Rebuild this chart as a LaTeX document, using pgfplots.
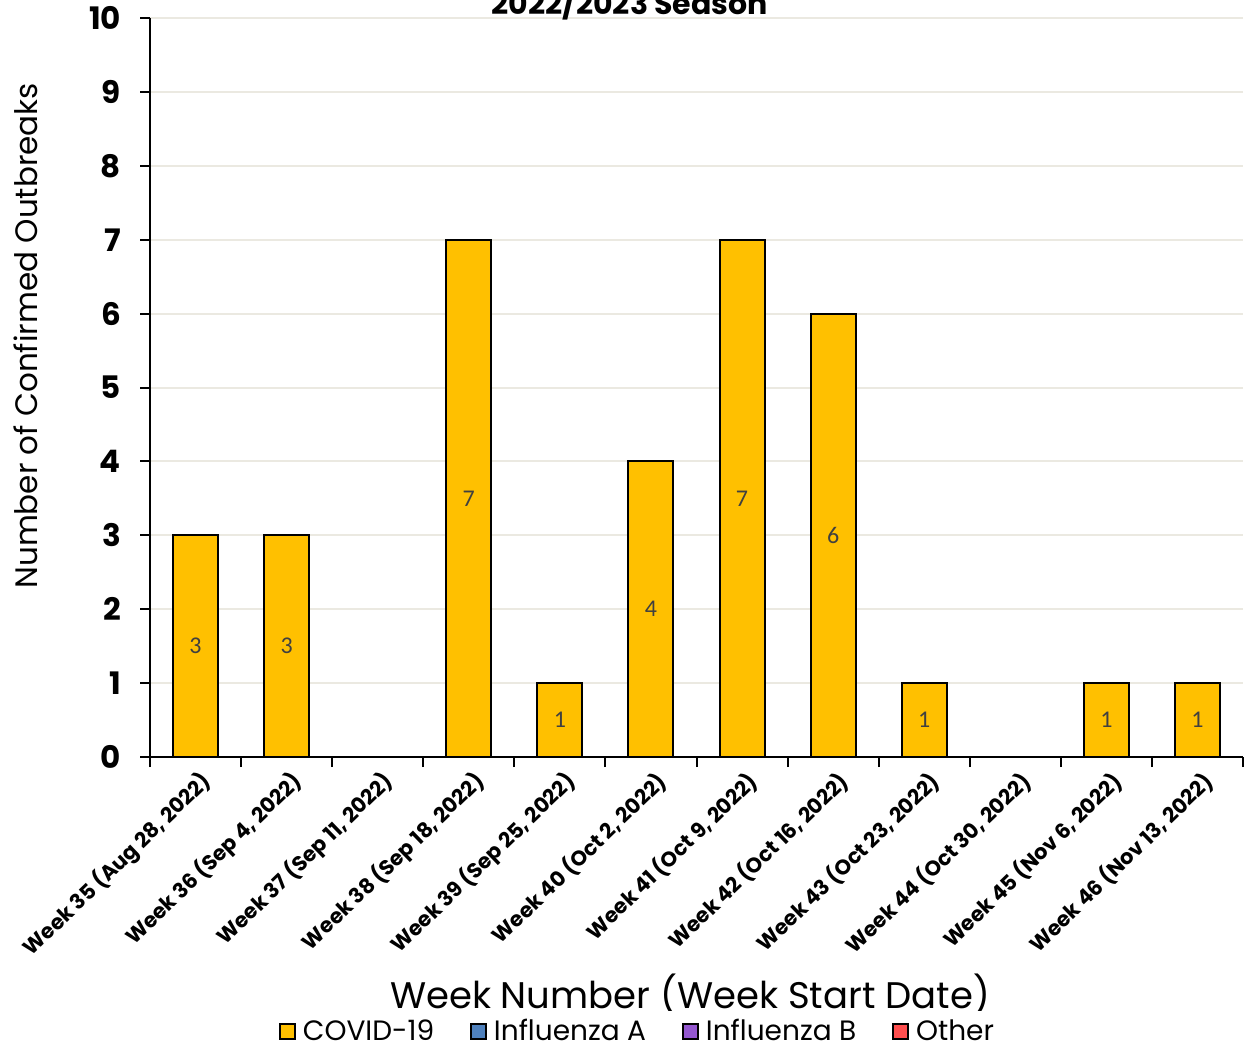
\documentclass[border=0pt]{standalone}
\usepackage{fontspec}
\setmainfont{Poppins}
\newfontfamily\carlito{Carlito}
\usepackage{pgfplots}
\pgfplotsset{compat=1.18}
\definecolor{covid}{HTML}{FFC000}
\definecolor{flua}{HTML}{4F81BD}
\definecolor{flub}{HTML}{9457CF}
\definecolor{other}{HTML}{FF4F4F}
\definecolor{gridc}{HTML}{EBE9E1}
\definecolor{lbl}{HTML}{404040}
\pgfplotsset{sq/.style={legend image code/.code={\draw[fill=#1,draw=black,line width=1pt] (0pt,-3.7pt) rectangle (7.4pt,3.7pt);}}}

\begin{document}
\begin{tikzpicture}
\begin{axis}[
    scale only axis,
    width=546.5pt, height=369.5pt,
    xmin=-0.5, xmax=11.5, ymin=0, ymax=10,
    axis lines=left,
    axis line style={-, black, line width=1pt},
    /pgf/number format/assume math mode=true,
    tick align=outside,
    major tick length=5pt, minor tick length=5pt,
    xtick={0,...,11},
    xticklabels={{Week 35 (Aug 28, 2022)},{Week 36 (Sep 4, 2022)},{Week 37 (Sep 11, 2022)},
        {Week 38 (Sep 18, 2022)},{Week 39 (Sep 25, 2022)},{Week 40 (Oct 2, 2022)},
        {Week 41 (Oct 9, 2022)},{Week 42 (Oct 16, 2022)},{Week 43 (Oct 23, 2022)},
        {Week 44 (Oct 30, 2022)},{Week 45 (Nov 6, 2022)},{Week 46 (Nov 13, 2022)}},
    major x tick style={draw=none},
    minor xtick={-0.5,0.5,...,11.5},
    minor x tick style={black, line width=1pt},
    y tick style={black, line width=1pt},
    ytick={0,...,10},
    ymajorgrids,
    grid style={gridc, line width=1pt},
    xticklabel style={rotate=44, anchor=east, xshift=4pt, yshift=-8pt,
        font=\bfseries\fontsize{10.5}{10.5}\selectfont},
    yticklabel style={xshift=-6pt, font=\bfseries\fontsize{15.5}{15.5}\selectfont},
    xlabel={Week Number (Week Start Date)},
    ylabel={Number of Confirmed Outbreaks},
    xlabel style={at={(axis description cs:0.494,-0.322)}, anchor=center, font=\fontsize{18.5}{18.5}\selectfont},
    ylabel style={at={(axis description cs:-0.114,0.57)}, anchor=center, font=\fontsize{15.5}{15.5}\selectfont},
    title={2022/2023 Season},
    title style={at={(axis description cs:0.439,1.0054)}, anchor=base, yshift=-6pt,
        font=\bfseries\fontsize{15}{15}\selectfont},
    legend columns=4,
    legend style={at={(axis description cs:0.447,-0.371)}, anchor=center, draw=none,
        font=\fontsize{14}{14}\selectfont,
        /tikz/every odd column/.append style={column sep=1.5pt},
        /tikz/every even column/.append style={column sep=16pt}},
]
\addlegendimage{sq=covid}
\addlegendentry{COVID-19}
\addlegendimage{sq=flua}
\addlegendentry{Influenza A}
\addlegendimage{sq=flub}
\addlegendentry{Influenza B}
\addlegendimage{sq=other}
\addlegendentry{Other}

\addplot[ybar, bar width=22.5pt, bar shift=0pt, fill=covid, draw=black, line width=1pt, forget plot]
    coordinates {(0,3) (1,3) (3,7) (4,1) (5,4) (6,7) (7,6) (8,1) (10,1) (11,1)};

\addplot[draw=none, mark=none, forget plot, nodes near coords, point meta=explicit,
    every node near coord/.append style={anchor=center, font=\carlito\fontsize{12}{12}\selectfont, text=lbl}]
    coordinates {(0,1.5)[3] (1,1.5)[3] (3,3.5)[7] (4,0.5)[1] (5,2)[4] (6,3.5)[7] (7,3)[6] (8,0.5)[1] (10,0.5)[1] (11,0.5)[1]};

\coordinate (o) at (rel axis cs:0,0);
\end{axis}
\pgfresetboundingbox
\path[use as bounding box] ([xshift=-75pt,yshift=-144.5pt]o) rectangle ++(622.5pt,523pt);
\end{tikzpicture}
\end{document}
